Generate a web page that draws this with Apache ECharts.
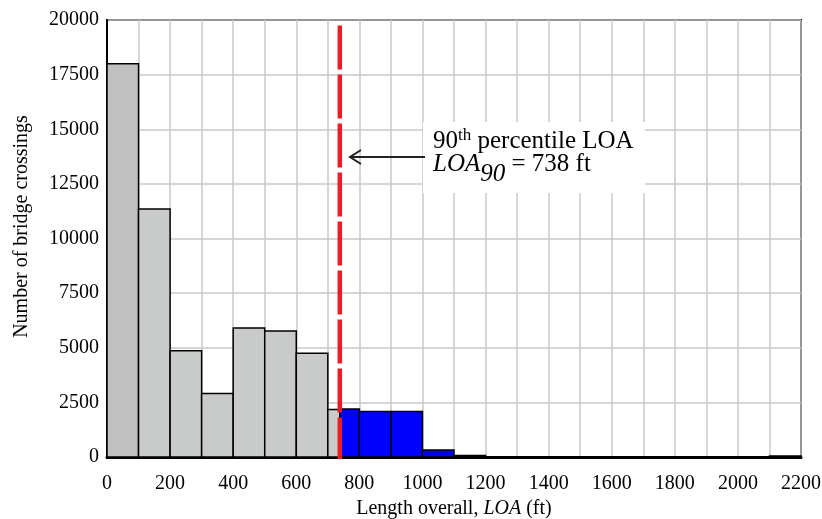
<!DOCTYPE html>
<html>
<head>
<meta charset="utf-8">
<script src="https://cdn.jsdelivr.net/npm/echarts@6/dist/echarts.min.js"></script>
<style>html,body{margin:0;padding:0;background:#fff}#c{width:822px;height:519px}</style>
</head>
<body>
<div id="c"></div>
<script>
// ---- data ----
const binLeft  = [0, 100, 200, 300, 400, 500, 600, 700, 738, 800, 900, 1000, 1100, 2100];
const binRight = [100, 200, 300, 400, 500, 600, 700, 738, 800, 900, 1000, 1100, 1200, 2200];
const counts   = [18000, 11350, 4860, 2910, 5900, 5770, 4750, 2170, 2200, 2080, 2080, 320, 70, 50];
const loa90 = 738;
const xTicks = [0, 200, 400, 600, 800, 1000, 1200, 1400, 1600, 1800, 2000, 2200];
const yTicks = [0, 2500, 5000, 7500, 10000, 12500, 15000, 17500, 20000];

const FONT = '"Liberation Serif", "Times New Roman", serif';
const binData = binLeft.map((l, i) => [l, binRight[i], counts[i], i]);

const chart = echarts.init(document.getElementById('c'));
chart.setOption({
  animation: false,
  backgroundColor: '#fff',
  grid: { left: 107, right: 21, top: 20, bottom: 62, show: true, borderColor: '#000', borderWidth: 2,
    backgroundColor: 'transparent', containLabel: false, outerBoundsMode: 'none' },
  xAxis: {
    type: 'value', min: 0, max: 2200, interval: 100,
    axisLine: { lineStyle: { color: '#000', width: 3 } },
    axisTick: { show: false },
    splitLine: { lineStyle: { color: '#c8c8c8', width: 1.5 } },
    axisLabel: { color: '#000', fontFamily: FONT, fontSize: 20, margin: 17,
      formatter: v => xTicks.indexOf(v) >= 0 ? String(v) : '' },
    name: '{n|Length overall, }{i|LOA}{n| (ft)}',
    nameLocation: 'middle', nameGap: 41,
    nameTextStyle: { rich: {
      n: { fontFamily: FONT, fontSize: 20, color: '#000' },
      i: { fontFamily: FONT, fontSize: 20, color: '#000', fontStyle: 'italic' } } }
  },
  yAxis: {
    type: 'value', min: 0, max: 20000, interval: 2500,
    axisLine: { show: true, lineStyle: { color: '#000', width: 2 } },
    axisTick: { show: false },
    splitLine: { lineStyle: { color: '#c8c8c8', width: 1.5 } },
    axisLabel: { color: '#000', fontFamily: FONT, fontSize: 20, margin: 8,
      formatter: v => yTicks.indexOf(v) >= 0 ? String(v) : '' },
    name: 'Number of bridge crossings',
    nameLocation: 'middle', nameGap: 75,
    nameTextStyle: { fontFamily: FONT, fontSize: 20, color: '#000', padding: [0, 0, 0, 24] }
  },
  series: [
    {
      type: 'custom',
      data: binData,
      encode: { x: [0, 1], y: 2 },
      z: 3,
      renderItem: function (params, api) {
        const l = api.value(0), r = api.value(1), c = api.value(2), idx = api.value(3);
        const p0 = api.coord([l, c]);
        const p1 = api.coord([r, 0]);
        let fill = '#0000ff';
        if (idx === 0) fill = '#c0c0c0';
        else if (l < loa90) fill = '#c9cbca';
        return {
          type: 'rect',
          shape: { x: p0[0], y: p0[1], width: p1[0] - p0[0], height: p1[1] - p0[1] },
          style: { fill: fill, stroke: '#000', lineWidth: 1.5 }
        };
      }
    },
    {
      type: 'line',
      data: [[loa90, 19750], [loa90, -100]],
      symbol: 'none',
      z: 5,
      lineStyle: { color: '#ed1c24', width: 4.5, type: [44, 5] }
    }
  ],
  graphic: [
    { type: 'rect', shape: { x: 423, y: 122, width: 222, height: 71 }, style: { fill: '#fff' }, z: 10 },
    { type: 'text', x: 433, y: 127, z: 11,
      style: { text: '{n|90}{s|th}{n| percentile LOA}', fill: '#000',
        rich: { n: { fontFamily: FONT, fontSize: 25, fill: '#000', height: 26, verticalAlign: 'bottom' },
                s: { fontFamily: FONT, fontSize: 17, fill: '#000', padding: [0, 0, 10, 0], verticalAlign: 'bottom' } } } },
    { type: 'text', x: 433, y: 151, z: 11,
      style: { text: '{i|LOA}{b|90}{n| = 738 ft}', fill: '#000',
        rich: { n: { fontFamily: FONT, fontSize: 25, fill: '#000', verticalAlign: 'top', height: 26 },
                i: { fontFamily: FONT, fontSize: 25, fill: '#000', fontStyle: 'italic', verticalAlign: 'top', height: 26 },
                b: { fontFamily: FONT, fontSize: 25, fill: '#000', fontStyle: 'italic', verticalAlign: 'top', padding: [10, 0, 0, 0], height: 26 } } } },
    { type: 'line', z: 11, shape: { x1: 425, y1: 157, x2: 350, y2: 157 }, style: { stroke: '#222', lineWidth: 2 } },
    { type: 'polyline', z: 11, shape: { points: [[361, 150], [350, 157], [361, 164]] }, style: { stroke: '#222', lineWidth: 2, fill: null } }
  ]
});
</script>
</body>
</html>
